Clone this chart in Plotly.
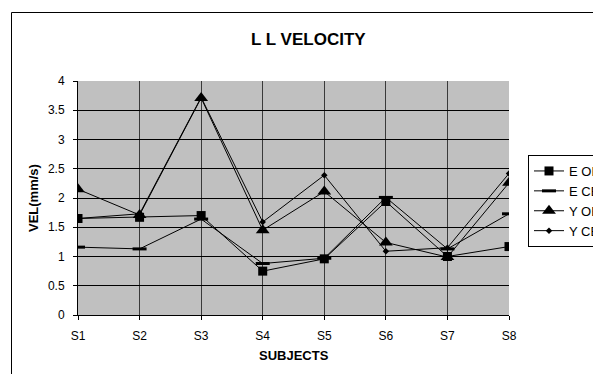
import plotly.graph_objects as go

subjects = ["S1", "S2", "S3", "S4", "S5", "S6", "S7", "S8"]
e_ob = [1.65, 1.67, 1.70, 0.75, 0.96, 1.94, 1.00, 1.17]
e_cb = [1.16, 1.13, 1.64, 0.88, 0.97, 2.01, 1.13, 1.73]
y_ob = [2.15, 1.71, 3.71, 1.45, 2.11, 1.24, 0.99, 2.26]
y_cb = [1.65, 1.73, 3.72, 1.59, 2.39, 1.09, 1.15, 2.42]
y_ticks = [0, 0.5, 1, 1.5, 2, 2.5, 3, 3.5, 4]

FONT = "Liberation Sans, Arial, sans-serif"
W, H = 593, 374
L, R, T, B = 78, 84, 81, 59
pw, ph = W - L - R, H - T - B


def px_x(x):
    return (x - L) / pw


def px_y(y):
    return (H - B - y) / ph


series = [
    ("E OB", e_ob, dict(symbol="square", size=9, color="black")),
    ("E CB", e_cb, dict(symbol="line-ew", size=10, color="black",
                        line=dict(width=3, color="black"))),
    ("Y OB", y_ob, dict(symbol="triangle-up", size=12, color="black")),
    ("Y CB", y_cb, dict(symbol="diamond", size=5, color="black")),
]

fig = go.Figure()
for name, vals, mk in series:
    fig.add_trace(go.Scatter(
        x=subjects, y=vals, name=name, mode="lines+markers",
        line=dict(color="black", width=1), marker=mk,
    ))

fig.update_layout(
    width=W, height=H,
    margin=dict(l=L, r=R, t=T, b=B, pad=0, autoexpand=False),
    paper_bgcolor="white",
    plot_bgcolor="#c0c0c0",
    font=dict(family=FONT, size=12, color="black"),
    showlegend=True,
    legend=dict(
        x=px_x(528), y=px_y(155), xanchor="left", yanchor="top",
        bgcolor="white", bordercolor="black", borderwidth=1,
        font=dict(family=FONT, size=13, color="black"),
        itemwidth=30, tracegroupgap=0,
    ),
    xaxis=dict(
        type="category", range=[0, len(subjects) - 1],
        showgrid=True, gridcolor="#3a3a3a", gridwidth=1,
        showline=True, linecolor="black", linewidth=1,
        ticks="outside", ticklen=4, tickcolor="black",
        ticklabelstandoff=6,
        tickfont=dict(family=FONT, size=12), zeroline=False,
    ),
    yaxis=dict(
        range=[0, 4], tickvals=y_ticks,
        ticktext=[f"{v:g}" for v in y_ticks],
        showgrid=True, gridcolor="black", gridwidth=1,
        showline=True, linecolor="black", linewidth=1,
        ticks="outside", ticklen=4, tickcolor="black",
        ticklabelstandoff=6,
        tickfont=dict(family=FONT, size=12), zeroline=False,
    ),
    shapes=[
        dict(type="rect", xref="paper", yref="paper",
             x0=px_x(11.5), x1=px_x(700), y0=px_y(12.5), y1=px_y(500),
             line=dict(color="black", width=1), fillcolor="rgba(0,0,0,0)",
             layer="below"),
    ],
    annotations=[
        dict(text="<b>L L VELOCITY</b>", xref="paper", yref="paper",
             x=px_x(308), y=px_y(40), showarrow=False,
             font=dict(family=FONT, size=17), xanchor="center", yanchor="middle"),
        dict(text="<b>SUBJECTS</b>", xref="paper", yref="paper",
             x=px_x(294), y=px_y(355), showarrow=False,
             font=dict(family=FONT, size=13), xanchor="center", yanchor="middle"),
        dict(text="<b>VEL(mm/s)</b>", xref="paper", yref="paper",
             x=px_x(33), y=px_y(198), showarrow=False, textangle=-90,
             font=dict(family=FONT, size=13), xanchor="center", yanchor="middle"),
    ],
)

fig.write_html("out.html")
